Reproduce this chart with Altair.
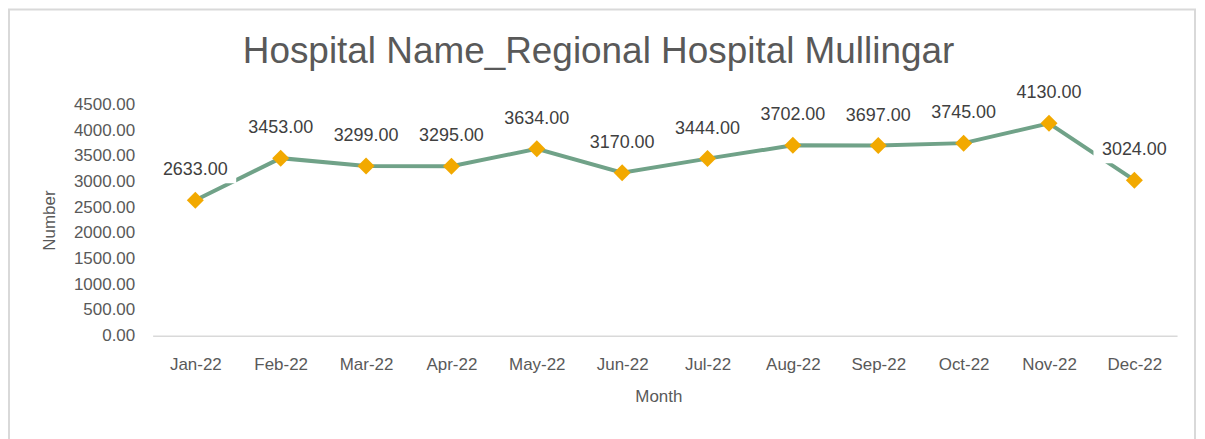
import altair as alt
import pandas as pd

months = ["Jan-22", "Feb-22", "Mar-22", "Apr-22", "May-22", "Jun-22",
          "Jul-22", "Aug-22", "Sep-22", "Oct-22", "Nov-22", "Dec-22"]
values = [2633, 3453, 3299, 3295, 3634, 3170, 3444, 3702, 3697, 3745, 4130, 3024]
y_ticks = [0, 500, 1000, 1500, 2000, 2500, 3000, 3500, 4000, 4500]
title_text = "Hospital Name_Regional Hospital Mullingar"

df = pd.DataFrame({"Month": months, "Number": values})
df["label"] = [f"{v:.2f}" for v in values]

FONT = "Liberation Sans"
W, H = 1027, 232

x_enc = alt.X("Month:N", sort=months,
              scale=alt.Scale(type="point", padding=0.5),
              axis=alt.Axis(title="Month", labelAngle=0, ticks=False, tickSize=0,
                            labelPadding=34, labelBaseline="alphabetic",
                            labelFontSize=17, labelColor="#595959", labelFont=FONT,
                            domainColor="#D9D9D9", domainWidth=1.5,
                            titleFontSize=17, titleColor="#595959", titleFont=FONT,
                            titleFontWeight="normal", titleBaseline="alphabetic",
                            titleX=507, titleY=66, grid=False))
y_enc = alt.Y("Number:Q",
              scale=alt.Scale(domain=[0, 4500], nice=False),
              axis=alt.Axis(title="Number", values=y_ticks, format=".2f",
                            ticks=False, domain=False, grid=False,
                            labelPadding=18, labelFontSize=17, labelColor="#595959",
                            labelFont=FONT,
                            titleFontSize=17, titleColor="#595959", titleFont=FONT,
                            titleFontWeight="normal", titleAngle=-90,
                            titleX=-103, titleY=116, titleBaseline="middle",
                            titleAlign="center"))

base = alt.Chart(df)

border = alt.Chart(pd.DataFrame({"a": [1]})).mark_rect(
    fillOpacity=0, stroke="#D9D9D9", strokeWidth=2
).encode(x=alt.value(-144), x2=alt.value(1045), y=alt.value(-95), y2=alt.value(345))

line = base.mark_line(color="#70A288", strokeWidth=4).encode(x=x_enc, y=y_enc)

boxes = base.mark_point(shape="M-1,-0.39H1V0.39H-1Z", filled=True, color="white",
                        opacity=1, size=6724, yOffset=-33).encode(x=x_enc, y=y_enc)

points = base.mark_point(shape="diamond", filled=True, color="#F2A900",
                         opacity=1, size=290).encode(x=x_enc, y=y_enc)

labels = base.mark_text(dy=-25, baseline="alphabetic", fontSize=18,
                        color="#404040", font=FONT).encode(x=x_enc, y=y_enc, text="label:N")

title = alt.Chart(pd.DataFrame({"t": [title_text]})).mark_text(
    fontSize=37, color="#595959", font=FONT, baseline="alphabetic", align="center"
).encode(text="t:N", x=alt.value(447), y=alt.value(-41))

chart = alt.layer(border, line, boxes, points, labels, title).properties(
    width=W, height=H,
    autosize=alt.AutoSizeParams(type="none"),
    padding={"left": 145, "top": 96, "right": 20, "bottom": 110},
    background="white",
).configure_view(strokeWidth=0)

chart.save("out.html", embed_options={"renderer": "svg", "actions": False})
